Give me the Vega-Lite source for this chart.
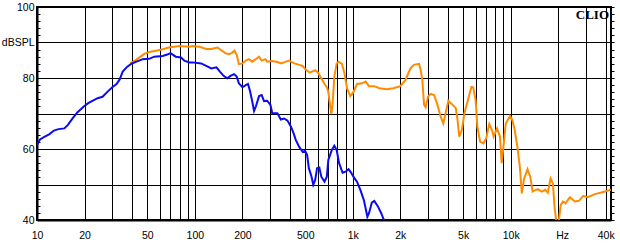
{
  "$schema": "https://vega.github.io/schema/vega-lite/v6.json",
  "width": 574,
  "height": 213,
  "autosize": "none",
  "padding": {"left": 37, "top": 7, "right": 9, "bottom": 32},
  "background": "white",
  "config": {"view": {"stroke": "black", "strokeWidth": 2}},
  "datasets": {
    "blue": [
      {"f":10,"db":61.1},{"f":10.45,"db":62.7},{"f":11.2,"db":63.5},{"f":12.0,"db":64.2},{"f":12.8,"db":65.2},{"f":13.7,"db":65.6},{"f":14.9,"db":65.8},{"f":15.7,"db":66.8},{"f":16.8,"db":68.6},{"f":18.0,"db":70.3},{"f":19.7,"db":71.9},{"f":21.1,"db":72.9},{"f":22.6,"db":73.6},{"f":24.2,"db":74.3},{"f":26.0,"db":74.7},{"f":27.9,"db":76.1},{"f":30,"db":77.4},{"f":31.9,"db":78.3},{"f":33.4,"db":79.6},{"f":34.9,"db":81.8},{"f":37.3,"db":83.2},{"f":39.9,"db":84.1},{"f":42.7,"db":84.6},{"f":46.7,"db":85.3},{"f":51.3,"db":85.4},{"f":55.3,"db":86.0},{"f":62.5,"db":86.2},{"f":66.8,"db":86.6},{"f":70,"db":87.0},{"f":75.7,"db":86.0},{"f":81.7,"db":85.8},{"f":85.8,"db":84.9},{"f":92.3,"db":84.4},{"f":96.6,"db":84.4},{"f":109.5,"db":84.1},{"f":118,"db":83.4},{"f":127,"db":82.7},{"f":137,"db":83.0},{"f":144,"db":81.8},{"f":152,"db":80.6},{"f":160,"db":79.9},{"f":168,"db":80.6},{"f":177,"db":81.1},{"f":184,"db":80.4},{"f":190,"db":78.5},{"f":200,"db":77.4},{"f":210,"db":78.0},{"f":217,"db":78.3},{"f":224,"db":76.1},{"f":231,"db":73.3},{"f":237,"db":70.7},{"f":243,"db":71.9},{"f":255,"db":74.9},{"f":265,"db":75.2},{"f":274,"db":73.5},{"f":287,"db":73.6},{"f":301,"db":72.4},{"f":309,"db":70.1},{"f":333,"db":70.1},{"f":350,"db":68.3},{"f":368,"db":68.6},{"f":386,"db":68.0},{"f":406,"db":66.3},{"f":422,"db":64.4},{"f":436,"db":62.5},{"f":458,"db":60.6},{"f":481,"db":59.2},{"f":499,"db":59.5},{"f":514,"db":58.3},{"f":527,"db":54.6},{"f":548,"db":52.2},{"f":562,"db":49.9},{"f":578,"db":51.3},{"f":594,"db":54.6},{"f":614,"db":54.8},{"f":632,"db":52.2},{"f":662,"db":50.8},{"f":685,"db":52.2},{"f":700,"db":56.9},{"f":736,"db":59.7},{"f":764,"db":60.9},{"f":791,"db":59.7},{"f":819,"db":56.0},{"f":862,"db":53.3},{"f":900,"db":53.6},{"f":940,"db":54.3},{"f":977,"db":53.3},{"f":1009,"db":52.2},{"f":1063,"db":50.8},{"f":1117,"db":48.5},{"f":1175,"db":45.6},{"f":1206,"db":43.3},{"f":1237,"db":40.9},{"f":1267,"db":41.9},{"f":1320,"db":44.9},{"f":1368,"db":45.4},{"f":1440,"db":43.9},{"f":1514,"db":41.9},{"f":1568,"db":40.2},{"f":1620,"db":39.0}
    ],
    "orange": [
      {"f":39,"db":84.1},{"f":41.7,"db":84.9},{"f":44.6,"db":85.8},{"f":47.8,"db":86.8},{"f":51.3,"db":87.3},{"f":56.8,"db":87.7},{"f":62.5,"db":88.1},{"f":68.4,"db":88.6},{"f":79.6,"db":89.0},{"f":92.3,"db":88.8},{"f":96.6,"db":89.0},{"f":106.9,"db":88.8},{"f":118,"db":88.2},{"f":127,"db":88.2},{"f":139,"db":88.6},{"f":144,"db":88.1},{"f":156,"db":87.0},{"f":164,"db":86.7},{"f":172,"db":87.1},{"f":178,"db":87.7},{"f":184,"db":86.5},{"f":190,"db":83.9},{"f":200,"db":84.1},{"f":210,"db":84.9},{"f":220,"db":85.3},{"f":231,"db":84.6},{"f":243,"db":85.3},{"f":255,"db":86.0},{"f":265,"db":84.9},{"f":280,"db":85.3},{"f":287,"db":84.6},{"f":309,"db":84.8},{"f":333,"db":84.5},{"f":353,"db":84.1},{"f":377,"db":84.6},{"f":396,"db":84.9},{"f":426,"db":84.1},{"f":458,"db":83.7},{"f":481,"db":83.4},{"f":499,"db":82.5},{"f":534,"db":81.5},{"f":578,"db":82.2},{"f":603,"db":81.5},{"f":632,"db":79.9},{"f":662,"db":78.3},{"f":685,"db":77.4},{"f":700,"db":76.1},{"f":718,"db":72.4},{"f":732,"db":69.8},{"f":746,"db":72.9},{"f":764,"db":80.4},{"f":791,"db":84.1},{"f":813,"db":84.6},{"f":854,"db":84.0},{"f":886,"db":81.3},{"f":921,"db":77.0},{"f":964,"db":74.9},{"f":1009,"db":76.0},{"f":1063,"db":78.3},{"f":1146,"db":78.5},{"f":1206,"db":79.0},{"f":1267,"db":77.7},{"f":1368,"db":77.7},{"f":1476,"db":77.1},{"f":1634,"db":76.8},{"f":1809,"db":77.1},{"f":2000,"db":77.7},{"f":2154,"db":79.4},{"f":2318,"db":82.7},{"f":2438,"db":83.7},{"f":2626,"db":84.0},{"f":2691,"db":82.3},{"f":2758,"db":79.4},{"f":2828,"db":72.5},{"f":2894,"db":71.8},{"f":3000,"db":74.8},{"f":3114,"db":75.5},{"f":3273,"db":75.2},{"f":3435,"db":72.5},{"f":3603,"db":69.1},{"f":3746,"db":67.2},{"f":3874,"db":70.1},{"f":4030,"db":73.6},{"f":4232,"db":72.7},{"f":4492,"db":71.5},{"f":4608,"db":68.2},{"f":4725,"db":63.5},{"f":4911,"db":65.4},{"f":5093,"db":70.1},{"f":5362,"db":73.8},{"f":5638,"db":77.5},{"f":5792,"db":77.4},{"f":6000,"db":73.8},{"f":6152,"db":66.3},{"f":6403,"db":62.1},{"f":6727,"db":61.6},{"f":7000,"db":63.0},{"f":7315,"db":67.0},{"f":7608,"db":65.4},{"f":7801,"db":63.5},{"f":8201,"db":65.8},{"f":8553,"db":63.5},{"f":8773,"db":56.0},{"f":9000,"db":60.6},{"f":9314,"db":67.2},{"f":9900,"db":69.3},{"f":10240,"db":68.2},{"f":10610,"db":65.4},{"f":11030,"db":60.6},{"f":11430,"db":55.0},{"f":11770,"db":47.5},{"f":12180,"db":51.7},{"f":12790,"db":54.3},{"f":13310,"db":52.2},{"f":13770,"db":48.0},{"f":14830,"db":48.7},{"f":15730,"db":48.0},{"f":16540,"db":48.5},{"f":17190,"db":47.7},{"f":17900,"db":51.7},{"f":18520,"db":50.3},{"f":18990,"db":43.3},{"f":19640,"db":38.5},{"f":20150,"db":39.5},{"f":20740,"db":44.2},{"f":21460,"db":45.2},{"f":22240,"db":44.7},{"f":23700,"db":46.4},{"f":25510,"db":45.2},{"f":27060,"db":45.4},{"f":28840,"db":46.8},{"f":30750,"db":46.4},{"f":34200,"db":47.3},{"f":38600,"db":47.9},{"f":43200,"db":48.5}
    ]
  },
  "layer": [
    {
      "data": {"name": "orange"},
      "mark": {"type": "line", "color": "#ff8c00", "strokeWidth": 2, "clip": true, "interpolate": "linear"},
      "encoding": {
        "x": {
          "field": "f", "type": "quantitative",
          "scale": {"type": "log", "domain": [10, 43200], "nice": false},
          "axis": {
            "orient": "bottom", "title": null,
            "values": [10,20,30,40,50,60,70,80,90,100,200,300,400,500,600,700,800,900,1000,2000,3000,4000,5000,6000,7000,8000,9000,10000,20000,30000,40000],
            "grid": true, "gridColor": "black", "gridOpacity": 1, "gridWidth": 1,
            "ticks": false, "domainColor": "black", "domainWidth": 2,
            "labelExpr": "datum.value == 20000 ? 'Hz' : ((datum.value == 10 || datum.value == 20 || datum.value == 50 || datum.value == 100 || datum.value == 200 || datum.value == 500) ? '' + datum.value : ((datum.value == 1000 || datum.value == 2000 || datum.value == 5000 || datum.value == 10000 || datum.value == 40000) ? (datum.value / 1000) + 'k' : ''))",
            "labelOffset": {"condition": {"test": "datum.value == 20000", "value": 4}, "value": 0},
            "labelFlush": false, "labelOverlap": false, "labelBound": false,
            "labelPadding": 10, "labelFont": "Liberation Sans", "labelFontSize": 10.5, "labelColor": "black"
          }
        },
        "y": {
          "field": "db", "type": "quantitative",
          "scale": {"domain": [40, 100], "nice": false, "zero": false},
          "axis": {
            "orient": "left", "title": null,
            "values": [40,42,44,46,48,50,52,54,56,58,60,62,64,66,68,70,72,74,76,78,80,82,84,86,88,90,92,94,96,98,100],
            "grid": true, "gridColor": "black", "gridWidth": 1,
            "gridOpacity": {"condition": {"test": "datum.value % 10 === 0", "value": 1}, "value": 0},
            "tickSize": -3, "tickColor": "black", "tickWidth": 1,
            "domainColor": "black", "domainWidth": 2,
            "labelExpr": "datum.value === 90 ? 'dBSPL' : (datum.value % 20 === 0 ? '' + datum.value : '')",
            "labelOverlap": false, "labelFlush": false,
            "labelPadding": 6, "labelFont": "Liberation Sans", "labelFontSize": 10.5, "labelColor": "black"
          }
        }
      }
    },
    {
      "data": {"name": "blue"},
      "mark": {"type": "line", "color": "#0a0af5", "strokeWidth": 2, "clip": true, "interpolate": "linear"},
      "encoding": {
        "x": {"field": "f", "type": "quantitative", "axis": null},
        "y": {
          "field": "db", "type": "quantitative",
          "axis": {
            "orient": "right", "title": null,
            "values": [40,42,44,46,48,50,52,54,56,58,60,62,64,66,68,70,72,74,76,78,80,82,84,86,88,90,92,94,96,98,100],
            "grid": false, "labels": false,
            "tickSize": 3, "tickColor": "black", "tickWidth": 1,
            "domainColor": "black", "domainWidth": 1
          }
        }
      }
    },
    {
      "data": {"values": [{"label": "CLIO"}]},
      "mark": {"type": "text", "align": "right", "baseline": "middle", "dx": -2, "font": "Liberation Serif", "fontWeight": "bold", "fontSize": 13, "color": "black"},
      "encoding": {
        "x": {"datum": 43200, "type": "quantitative", "axis": null},
        "y": {"datum": 97.8, "type": "quantitative", "axis": null},
        "text": {"field": "label"}
      }
    }
  ],
  "resolve": {"axis": {"x": "independent", "y": "independent"}}
}
